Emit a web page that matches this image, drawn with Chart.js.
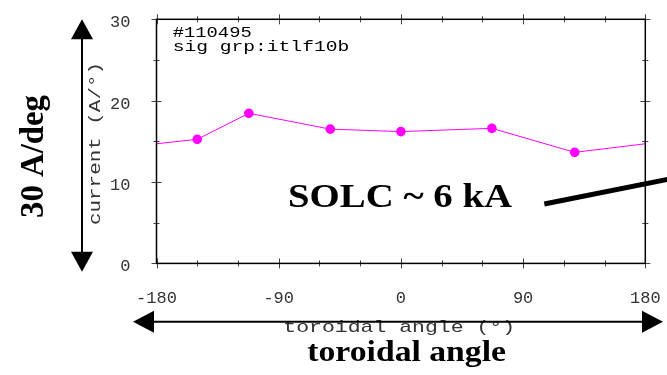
<!DOCTYPE html>
<html>
<head>
<meta charset="utf-8">
<script src="https://cdn.jsdelivr.net/npm/chart.js@4.4.1/dist/chart.umd.min.js"></script>
<style>
  html, body { margin: 0; padding: 0; background: #fff; }
  canvas { display: block; }
</style>
</head>
<body>
<canvas id="coilChart" width="667" height="375"></canvas>
<script>
// shot / signal info printed in the corner
const shotLabel = '#110495';
const signalGroup = 'sig grp:itlf10b';

// probe positions (deg) and measured current (A/deg)
const probeAngles = [-150, -112, -52, 0, 67, 128];
const probeCurrents = [15.25, 18.45, 16.5, 16.2, 16.6, 13.65];
// value where the curve wraps round at -180 / +180
const edgeCurrent = 14.7;

const angleTicks = [-180, -90, 0, 90, 180];
const currentTicks = [0, 10, 20, 30];

const MONO = '"Liberation Mono", "DejaVu Sans Mono", monospace';
const SERIF = '"Liberation Serif", "DejaVu Serif", serif';

// curve closes periodically, so pad both ends with the wrap value
const curve = [{ x: -180, y: edgeCurrent }]
  .concat(probeAngles.map((a, i) => ({ x: a, y: probeCurrents[i] })))
  .concat([{ x: 180, y: edgeCurrent }]);

// text squeezed/stretched to a given width
function fitText(ctx, text, font, x, y, width, rotation) {
  ctx.save();
  ctx.font = font;
  const w = ctx.measureText(text).width;
  ctx.translate(x, y);
  if (rotation) ctx.rotate(rotation);
  ctx.scale(width / w, 1);
  ctx.textAlign = 'left';
  ctx.textBaseline = 'alphabetic';
  ctx.fillText(text, 0, 0);
  ctx.restore();
}

function arrowHead(ctx, tx, ty, dx, dy, len, half) {
  // tip at (tx,ty), pointing along (dx,dy)
  const bx = tx - dx * len, by = ty - dy * len;
  ctx.beginPath();
  ctx.moveTo(tx, ty);
  ctx.lineTo(bx - dy * half, by + dx * half);
  ctx.lineTo(bx + dy * half, by - dx * half);
  ctx.closePath();
  ctx.fill();
}

// box round the plot with ticks crossing each edge
const frameTicks = {
  id: 'frameTicks',
  afterDraw(chart) {
    const { ctx, chartArea: a, scales: { x, y } } = chart;
    ctx.save();
    ctx.strokeStyle = '#444';
    ctx.lineWidth = 1;
    ctx.beginPath();
    for (let v = x.min; v <= x.max; v += 30) {
      const px = Math.round(x.getPixelForValue(v)) + 0.5;
      const h = v % 90 === 0 ? 5 : 3;
      ctx.moveTo(px, a.bottom - h); ctx.lineTo(px, a.bottom + h);
      ctx.moveTo(px, a.top - h); ctx.lineTo(px, a.top + h);
    }
    for (let v = y.min; v <= y.max; v += 5) {
      const py = Math.round(y.getPixelForValue(v)) + 0.5;
      const w = v % 10 === 0 ? 5 : 3;
      ctx.moveTo(a.left - w, py); ctx.lineTo(a.left + w, py);
      ctx.moveTo(a.right - w, py); ctx.lineTo(a.right + w, py);
    }
    ctx.stroke();
    ctx.strokeStyle = '#000';
    ctx.lineWidth = 1.5;
    ctx.strokeRect(a.left, a.top, a.right - a.left, a.bottom - a.top);
    ctx.restore();
  }
};

// axis titles, corner info and the hand-drawn notes on top
const notes = {
  id: 'notes',
  afterDraw(chart) {
    const ctx = chart.ctx;
    ctx.save();
    ctx.fillStyle = '#000';
    ctx.strokeStyle = '#000';

    fitText(ctx, shotLabel, '15px ' + MONO, 172.7, 37, 79);
    fitText(ctx, signalGroup, '15px ' + MONO, 172.7, 50.7, 176.5);

    ctx.fillStyle = '#333';
    fitText(ctx, 'current (A/°)', '17px ' + MONO, 99.5, 225, 163, -Math.PI / 2);
    fitText(ctx, 'toroidal angle (°)', '17px ' + MONO, 283.3, 331.7, 231.7);
    ctx.fillStyle = '#000';

    // vertical arrow
    ctx.lineWidth = 2;
    ctx.beginPath();
    ctx.moveTo(82, 35); ctx.lineTo(82, 256);
    ctx.stroke();
    arrowHead(ctx, 82, 19.3, 0, -1, 20, 11);
    arrowHead(ctx, 82, 271.7, 0, 1, 20, 11);

    // horizontal arrow
    ctx.beginPath();
    ctx.moveTo(150, 321.7); ctx.lineTo(645, 321.7);
    ctx.stroke();
    arrowHead(ctx, 133, 321.7, -1, 0, 21, 11);
    arrowHead(ctx, 663, 321.7, 1, 0, 21, 11);

    fitText(ctx, '30 A/deg', 'bold 33px ' + SERIF, 43, 218, 123, -Math.PI / 2);
    fitText(ctx, 'toroidal angle', 'bold 29px ' + SERIF, 307.3, 361, 198.7);
    fitText(ctx, 'SOLC ~ 6 kA', 'bold 33px ' + SERIF, 288, 207.3, 224);

    // pointer line running off the right edge
    ctx.lineWidth = 5;
    ctx.beginPath();
    ctx.moveTo(544.3, 204);
    ctx.lineTo(700, 172.9);
    ctx.stroke();
    ctx.restore();
  }
};

new Chart(document.getElementById('coilChart'), {
  type: 'line',
  data: {
    datasets: [{
      data: curve,
      borderColor: '#ff00ff',
      backgroundColor: '#ff00ff',
      borderWidth: 1,
      pointRadius: (c) => (c.dataIndex === 0 || c.dataIndex === curve.length - 1 ? 0 : 4.8),
      pointBorderWidth: 0,
      tension: 0
    }]
  },
  options: {
    responsive: false,
    animation: false,
    layout: { padding: { top: 19.3, right: 21.7, left: 0, bottom: 0 } },
    plugins: { legend: { display: false }, tooltip: { enabled: false } },
    scales: {
      x: {
        type: 'linear',
        min: -180,
        max: 180,
        afterFit: (s) => {
          s.height = 375 - 263.4;
          s.paddingLeft = 0;
          s.paddingRight = 0;
        },
        afterBuildTicks: (s) => { s.ticks = angleTicks.map((v) => ({ value: v })); },
        grid: { display: false },
        border: { display: false },
        ticks: { padding: 17, color: '#333', font: { family: MONO, size: 17 }, maxRotation: 0 }
      },
      y: {
        min: 0,
        max: 30,
        afterFit: (s) => {
          s.width = 156.5;
          s.paddingTop = 0;
          s.paddingBottom = 0;
        },
        afterBuildTicks: (s) => { s.ticks = currentTicks.map((v) => ({ value: v })); },
        grid: { display: false },
        border: { display: false },
        ticks: { padding: 18, labelOffset: 3.5, color: '#333', font: { family: MONO, size: 17 } }
      }
    }
  },
  plugins: [frameTicks, notes]
});
</script>
</body>
</html>
